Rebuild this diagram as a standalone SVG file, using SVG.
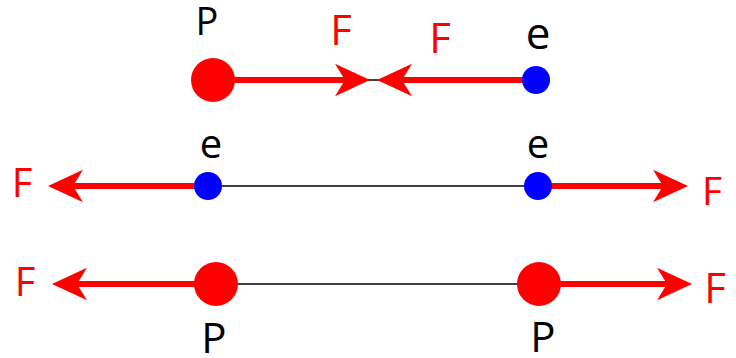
<svg xmlns="http://www.w3.org/2000/svg" width="736" height="358" viewBox="0 0 736 358">
<style>
.f{stroke:#ff0000;stroke-width:6;fill:none;marker-end:url(#ah)}
.k{stroke:#000;stroke-width:1.5}
.p{fill:#ff0000}
.e{fill:#0000ff}
text{font-family:"Open Sans","Liberation Sans",sans-serif;text-anchor:middle}
.rt{fill:#ff0000}
.bt{fill:#000}
</style>
<defs>
<marker id="ah" markerUnits="userSpaceOnUse" markerWidth="40" markerHeight="40" viewBox="-10 -15 32 30" refX="0" refY="0" orient="auto" overflow="visible">
<path d="M20,0 L-8,-13 L0,0 L-8,13 Z" fill="#ff0000"/>
</marker>
</defs>
<g id="connectors">
<line class="k" x1="365" y1="80" x2="382" y2="80"/>
<line class="k" x1="208" y1="186" x2="538" y2="186"/>
<line class="k" x1="216" y1="284" x2="539" y2="284"/>
<line class="f" x1="213" y1="80" x2="345" y2="80"/>
<line class="f" x1="536" y1="80" x2="402" y2="80"/>
<line class="f" x1="208" y1="186" x2="73" y2="186"/>
<line class="f" x1="538" y1="186" x2="663" y2="186"/>
<line class="f" x1="216" y1="284" x2="77" y2="284"/>
<line class="f" x1="539" y1="284" x2="667" y2="284"/>
</g>
<g id="p1"><circle class="p" cx="213" cy="80" r="22"/><text class="bt" x="207" y="35" font-size="38">P</text></g>
<g id="e1"><circle class="e" cx="536" cy="80" r="14"/><text class="bt" x="538" y="49" font-size="44">e</text></g>
<g id="f1"><text class="rt" x="341" y="45" font-size="42">F</text></g>
<g id="f2"><text class="rt" x="440" y="53" font-size="42">F</text></g>
<g id="e2"><circle class="e" cx="208" cy="186" r="14"/><text class="bt" x="211" y="158" font-size="40">e</text></g>
<g id="e3"><circle class="e" cx="538" cy="186" r="14"/><text class="bt" x="538" y="158" font-size="40">e</text></g>
<g id="f3"><text class="rt" x="22" y="197" font-size="40">F</text></g>
<g id="f4"><text class="rt" x="712" y="205" font-size="39">F</text></g>
<g id="p2"><circle class="p" cx="216" cy="284" r="22"/><text class="bt" x="214" y="353" font-size="42">P</text></g>
<g id="p3"><circle class="p" cx="539" cy="284" r="22"/><text class="bt" x="543" y="352" font-size="42">P</text></g>
<g id="f5"><text class="rt" x="25" y="296" font-size="40">F</text></g>
<g id="f6"><text class="rt" x="715" y="303" font-size="42">F</text></g>
</svg>
